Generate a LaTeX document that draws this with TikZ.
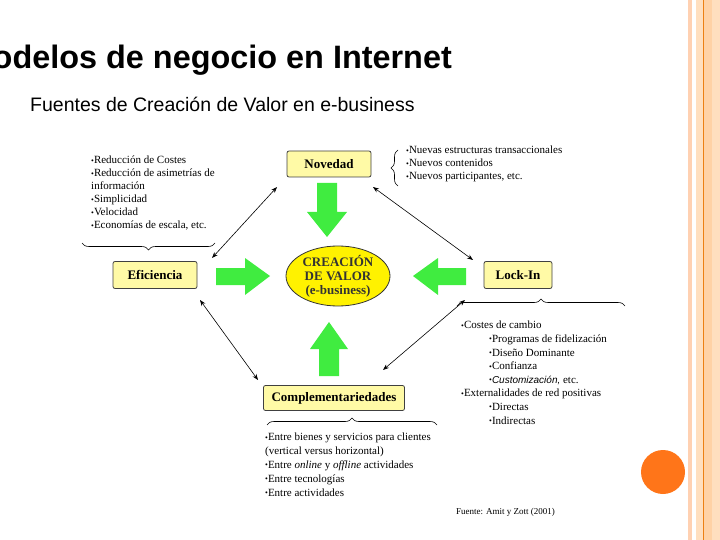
\documentclass[tikz,border=0pt]{standalone}
\usepackage{fontspec}
\setmainfont{Liberation Serif}
\newfontfamily\arialf{Liberation Sans}
\usetikzlibrary{shapes.geometric,arrows.meta,decorations.pathreplacing}
\newcommand{\bu}{\raisebox{0.6pt}{\fontsize{8}{8}\selectfont\textbullet}}
\begin{document}
\begin{tikzpicture}[x=1pt,y=-1pt,
  box/.style={draw=black!75,fill=yellow!35,rounded corners=2pt,line width=0.8pt,font=\bfseries\fontsize{13}{13}\selectfont,inner sep=4pt},
  lst/.style={align=left,font=\fontsize{11}{13}\selectfont,inner sep=0pt},
  dbl/.style={{Stealth[length=6pt]}-{Stealth[length=6pt]},line width=0.6pt},
  grn/.style={fill=green!90!black!75,draw=none},
  brc/.style={decorate,decoration={brace,amplitude=7pt},line width=0.6pt}]
\useasboundingbox (0,0) rectangle (720,540);
\clip (0,0) rectangle (720,540);
% stripes
\fill[red!20!orange!30] (688,0) rectangle (692,540);
\fill[orange!25] (696,0) rectangle (720,540);
\fill[orange!35] (703,0) rectangle (712,540);
\draw[orange!70!brown,line width=0.8pt] (703,0) -- (703,540);
\fill[orange!80!red!90] (663,472) circle (22);
% titles
\node[anchor=base east,font=\arialf\bfseries\fontsize{32.4}{32}\selectfont,inner sep=0pt] (title) at (452,69) {Modelos de negocio en Internet};
\node[anchor=base west,font=\arialf\fontsize{19.5}{20}\selectfont,inner sep=0pt] (sub) at (30,112) {Fuentes de Creación de Valor en e-business};
% boxes
\node[box,minimum width=84pt,minimum height=26pt] (nov) at (329,164) {Novedad};
\node[box,minimum width=84pt,minimum height=27pt] (efi) at (155,275) {Eficiencia};
\node[box,minimum width=68pt,minimum height=27pt] (lock) at (518,275) {Lock-In};
\node[box,minimum width=141pt,minimum height=25pt,inner sep=2pt] (comp) at (334,398) {Complementariedades};
\node[ellipse,draw=black!80,fill=yellow,line width=0.8pt,minimum width=104pt,minimum height=60pt,align=center,inner sep=0pt,font=\bfseries\fontsize{13}{14}\selectfont,text=black!80] (cv) at (338,276) {CREACIÓN\\DE VALOR\\(e-business)};
% green arrows
\fill[grn] (317,183) -- (337,183) -- (337,212) -- (347,212) -- (327,237) -- (307,212) -- (317,212) -- cycle;
\fill[grn] (310,349) -- (319,349) -- (319,376) -- (339,376) -- (339,349) -- (348,349) -- (329,322) -- cycle;
\fill[grn] (216,268) -- (245,268) -- (245,258) -- (270,276) -- (245,295) -- (245,285) -- (216,285) -- cycle;
\fill[grn] (466,268) -- (438,268) -- (438,258) -- (413,276) -- (438,295) -- (438,285) -- (466,285) -- cycle;
% connectors
\coordinate (a1) at (277,187); \coordinate (a2) at (212,258);
\coordinate (b1) at (373,187); \coordinate (b2) at (473,260);
\coordinate (c1) at (200,300); \coordinate (c2) at (258,380);
\coordinate (d1) at (465,300); \coordinate (d2) at (383,370);
\draw[dbl] (a1) -- (a2);
\draw[dbl] (b1) -- (b2);
\draw[dbl] (c1) -- (c2);
\draw[dbl] (d1) -- (d2);
% braces
\draw[brc,decoration={mirror}] (82,243) -- (215,243);
\draw[brc] (398,186) -- (398,150);
\draw[brc] (457,306) -- (625,306);
\draw[brc] (267,425) -- (437,425);
% lists
\node[lst,anchor=north west] (l1) at (91,156) {\bu Reducción de Costes\\\bu Reducción de asimetrías de\\información\\\bu Simplicidad\\\bu Velocidad\\\bu Economías de escala, etc.};
\node[lst,anchor=north west] (l2) at (406,146) {\bu Nuevas estructuras transaccionales\\\bu Nuevos contenidos\\\bu Nuevos participantes, etc.};
\node[lst,anchor=north west,font=\fontsize{11}{13.6}\selectfont] (l3) at (461,321) {\bu Costes de cambio\\\hspace{28pt}\bu Programas de fidelización\\\hspace{28pt}\bu Diseño Dominante\\\hspace{28pt}\bu Confianza\\\hspace{28pt}\bu {\arialf\itshape\fontsize{10}{10}\selectfont Customización,} etc.\\\bu Externalidades de red positivas\\\hspace{28pt}\bu Directas\\\hspace{28pt}\bu Indirectas};
\node[lst,anchor=north west,font=\fontsize{11}{13.8}\selectfont] (l4) at (265,433) {\bu Entre bienes y servicios para clientes\\(vertical versus horizontal)\\\bu Entre \textit{online} y \textit{offline} actividades\\\bu Entre tecnologías\\\bu Entre actividades};
\node[lst,anchor=north west,font=\fontsize{9}{10}\selectfont] (src) at (456,508) {Fuente: Amit y Zott (2001)};
\end{tikzpicture}
\end{document}
